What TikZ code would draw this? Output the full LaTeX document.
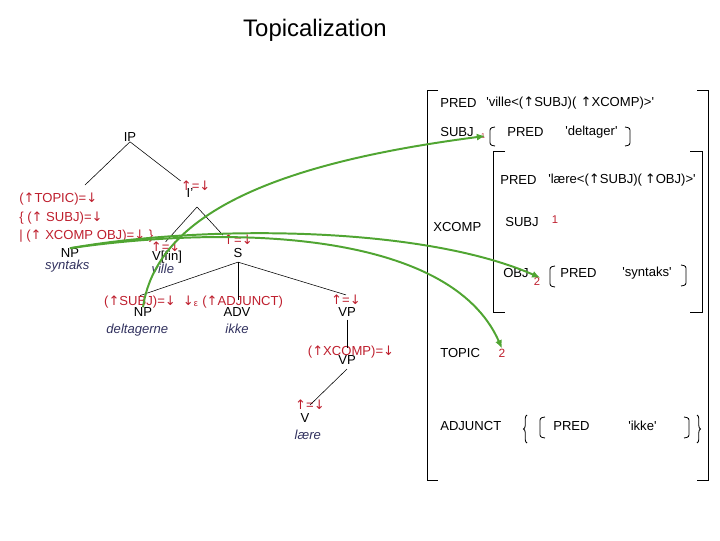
\documentclass[tikz,border=0pt]{standalone}
\usepackage{fontspec}
\setmainfont{Liberation Sans}
\newfontfamily\arrowfont{DejaVu Sans}
\usetikzlibrary{positioning,arrows.meta,decorations.pathreplacing}
\definecolor{annred}{RGB}{190,30,45}
\definecolor{linkgreen}{RGB}{80,165,50}
\definecolor{wordblue}{RGB}{50,50,95}
\newcommand{\sq}{\textquotesingle}
\newcommand{\uparr}{{\arrowfont ↑}}
\newcommand{\dnarr}{{\arrowfont ↓}}
\begin{document}
\begin{tikzpicture}[x=0.025cm, y=-0.025cm,
    cat/.style={font=\fontsize{9.3}{11}\selectfont, inner sep=0pt},
    ann/.style={cat, text=annred},
    word/.style={font=\fontsize{9.3}{11}\selectfont\itshape, text=wordblue, inner sep=0pt},
    idx/.style={font=\fontsize{8}{9}\selectfont, text=annred, inner sep=0pt},
    attr/.style={cat, anchor=west},
    link/.style={linkgreen, line width=1.4pt, -{Latex[length=6pt,width=5pt]}},
    fbr/.style={line width=0.6pt}]
  \useasboundingbox (0,0) rectangle (720,540);
  \node[font=\fontsize{17}{20}\selectfont] (title) at (315,30) {Topicalization};

  % c-structure
  \node[cat] (IP) at (130,137) {IP};
  \node[cat] (Ibar) at (190,193) {I'};
  \node[ann, above=-2pt of Ibar, xshift=4pt] (upI) {\uparr=\dnarr};
  \coordinate (topend) at (85,185);
  \coordinate (Iapex) at (197,207);
  \node[ann, anchor=west] (topA) at (19,199) {(\uparr TOPIC)=\dnarr};
  \node[ann, anchor=west] (topB) at (19,218) {\{ (\uparr\ SUBJ)=\dnarr};
  \node[ann, anchor=west] (topC) at (19,236) {| (\uparr\ XCOMP OBJ)=\dnarr\ \}};
  \node[cat] (NPt) at (70,253) {NP};
  \node[word, below=1.5pt of NPt, xshift=-2pt] (syntaks) {syntaks};
  \node[cat] (Vfin) at (167,257) {V[fin]};
  \node[ann, above=-1pt of Vfin, xshift=-1pt] (upV) {\uparr=\dnarr};
  \node[word, below=0pt of Vfin, xshift=-3pt] (ville) {ville};
  \node[cat] (S) at (238,253) {S};
  \node[ann, above=2pt of S] (upS) {\uparr=\dnarr};
  \node[cat] (NPs) at (143,312) {NP};
  \node[ann] (upNPs) at (140,302) {(\uparr SUBJ)=\dnarr};
  \node[word, below=5pt of NPs, xshift=-4pt] (deltagerne) {deltagerne};
  \node[cat] (ADV) at (237,312) {ADV};
  \node[ann] (upADV) at (233,302) {\dnarr\textsubscript{ε} (\uparr ADJUNCT)};
  \node[word, below=5pt of ADV] (ikke) {ikke};
  \node[cat] (VPa) at (347,312) {VP};
  \node[ann] (upVPa) at (346,300) {\uparr=\dnarr};
  \node[cat] (VPb) at (347,360) {VP};
  \node[ann] (upVPb) at (351,352) {(\uparr XCOMP)=\dnarr};
  \node[cat] (V) at (305,418) {V};
  \node[ann] (upVb) at (310,405) {\uparr=\dnarr};
  \node[word, below=5pt of V, xshift=2pt] (laere) {lære};

  \draw (IP.south) -- (topend);
  \draw (IP.south) -- (upI.north west);
  \draw (Iapex) -- (upV.north);
  \draw (Iapex) -- (upS.north west);
  \draw ([yshift=-3pt]S.south) -- (upNPs.north);
  \draw ([yshift=-3pt]S.south) -- ([yshift=-3pt]S.south |- upADV.north);
  \draw ([yshift=-3pt]S.south) -- (upVPa.north);
  \draw ([yshift=-2pt]VPa.south) -- ([yshift=-2pt]VPa.south |- upVPb.north);
  \draw ([yshift=-3pt]VPb.south) -- (upVb.center);

  % f-structure
  \draw[fbr] (438,90) -- (427,90) -- (427,480) -- (438,480);
  \draw[fbr] (697,90) -- (708,90) -- (708,480) -- (697,480);
  \node[attr] (predA) at (440,103) {PRED};
  \node[attr] (villeA) at (486,103) {\sq ville<(\uparr SUBJ)(\hspace{3pt}\uparr XCOMP)>\sq};
  \node[attr] (subjA) at (440,132) {SUBJ};
  \node[idx, font=\fontsize{5}{6}\selectfont] (i1) at (483,136) {1};
  \draw[fbr, rounded corners=1.5pt] (495,127) -- (490,128) -- (490,145) -- (495,146);
  \node[attr] (predS) at (507,132) {PRED};
  \node[attr] (deltager) at (565,132) {\sq deltager\sq};
  \draw[fbr, rounded corners=1.5pt] (625,127) -- (630,128) -- (630,145) -- (625,146);

  \draw[fbr] (505,151) -- (493,151) -- (493,312) -- (505,312);
  \draw[fbr] (690,151) -- (702,151) -- (702,312) -- (690,312);
  \node[attr] (predX) at (500,180) {PRED};
  \node[attr] (laereX) at (548,180) {\sq lære<(\uparr SUBJ)(\hspace{2pt}\uparr OBJ)>\sq};
  \node[attr] (xcomp) at (433,227) {XCOMP};
  \node[attr] (subjX) at (505,222) {SUBJ};
  \node[idx] (i1b) at (555,220) {1};
  \node[attr] (objX) at (503,273) {OBJ};
  \node[idx] (i2) at (537,282) {2};
  \draw[fbr, rounded corners=1.5pt] (555,266) -- (550,267) -- (550,286) -- (555,287);
  \node[attr] (predO) at (560,273) {PRED};
  \node[attr] (syntaksO) at (622,273) {\sq syntaks\sq};
  \draw[fbr, rounded corners=1.5pt] (681,265) -- (686,266) -- (686,285) -- (681,286);

  \node[attr] (topic) at (440,353) {TOPIC};
  \node[idx, font=\fontsize{8.5}{10}\selectfont] (i3) at (502,353) {2};
  \node[attr] (adjunct) at (440,426) {ADJUNCT};
  \draw[fbr, decorate, decoration={brace, amplitude=2.5pt}] (527,443) -- (527,415);
  \draw[fbr, rounded corners=1.5pt] (545,417) -- (540,418) -- (540,437) -- (545,438);
  \node[attr] (predJ) at (553,426) {PRED};
  \node[attr] (ikkeJ) at (628,426) {\sq ikke\sq};
  \draw[fbr, rounded corners=1.5pt] (684,417) -- (689,418) -- (689,437) -- (684,438);
  \draw[fbr, decorate, decoration={brace, amplitude=2.5pt}] (697,415) -- (697,443);

  % links
  \draw[link] (NPs.north) .. controls (158,205) and (300,160) .. (i1.east);
  \draw[link] (NPt.north) .. controls (200,225) and (420,225) .. (i2.north east);
  \draw[link] (NPt.north) .. controls (230,225) and (450,230) .. (i3.north);
\end{tikzpicture}
\end{document}
